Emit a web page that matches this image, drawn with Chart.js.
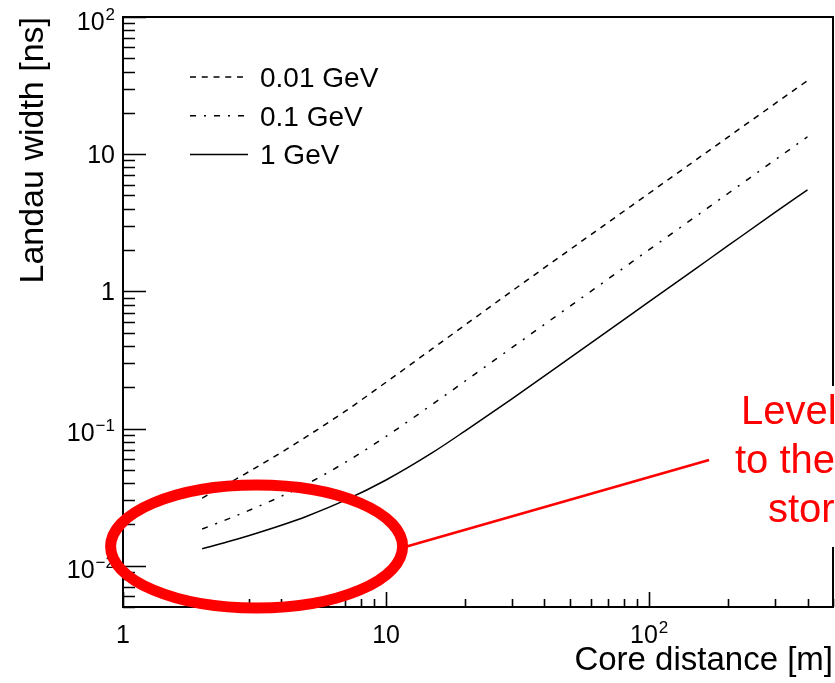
<!DOCTYPE html>
<html>
<head>
<meta charset="utf-8">
<script src="https://cdn.jsdelivr.net/npm/chart.js@4/dist/chart.umd.min.js"></script>
<style>
  html, body { margin: 0; padding: 0; background: #fff; overflow: hidden; }
  canvas { display: block; }
</style>
</head>
<body>
<canvas id="c" width="835" height="683"></canvas>
<script>
// Core distance samples [m]
const coreDistance = [2, 2.5, 3, 4, 5, 7, 10, 15, 20, 30, 50, 70, 100, 150, 200, 300, 400];
// Landau width [ns] for each primary energy
const width001GeV = [0.0311, 0.03951, 0.04828, 0.06703, 0.08764, 0.1338, 0.2175, 0.3819, 0.5697, 1.001, 2.016, 3.19, 5.19, 9.03, 13.37, 23.25, 34.4];
const width01GeV  = [0.0185, 0.02186, 0.02521, 0.03209, 0.03941, 0.0567, 0.0876, 0.1501, 0.2221, 0.387, 0.7792, 1.234, 2.011, 3.501, 5.19, 9.04, 13.4];
const width1GeV   = [0.0133, 0.01494, 0.01655, 0.01973, 0.02296, 0.03004, 0.04217, 0.06668, 0.0962, 0.164, 0.327, 0.5167, 0.841, 1.46, 2.16, 3.745, 5.5];
const seriesLabels = ['0.01 GeV', '0.1 GeV', '1 GeV'];

// Axis ranges and labels (base + superscript exponent)
const xRange = [1, 500];
const yRange = [0.005, 100];
const xTickLabels = [
  { value: 1, base: '1', exp: '' },
  { value: 10, base: '10', exp: '' },
  { value: 100, base: '10', exp: '2' }
];
const yTickLabels = [
  { value: 0.01, base: '10', exp: '\u22122' },
  { value: 0.1, base: '10', exp: '\u22121' },
  { value: 1, base: '1', exp: '' },
  { value: 10, base: '10', exp: '' },
  { value: 100, base: '10', exp: '2' }
];
const xTitle = 'Core distance [m]';
const yTitle = 'Landau width [ns]';

// Callout: ellipse around the small-distance region and its note
const calloutCenter = { x: 3.22, y: 0.0138 };
const calloutLineEnd = { x: 169, y: 0.059 };
const noteLines = ['Level', 'to the', 'stor'];

const FONT = '"Liberation Sans", Arial, Helvetica, sans-serif';

function logTicks(min, max) {
  const out = [];
  for (let n = Math.floor(Math.log10(min)); n <= Math.ceil(Math.log10(max)); n++) {
    for (let m = 1; m <= 9; m++) {
      const v = Number((m * Math.pow(10, n)).toPrecision(12));
      if (v >= min * 0.99999 && v <= max * 1.00001) out.push({ v, major: m === 1 });
    }
  }
  return out;
}

function drawPowerLabel(ctx, lab, px, py, align) {
  const mainFont = '25px ' + FONT, supFont = '17px ' + FONT;
  ctx.font = mainFont;
  const wMain = ctx.measureText(lab.base).width;
  ctx.font = supFont;
  const wSup = lab.exp ? ctx.measureText(lab.exp).width + 1 : 0;
  const total = wMain + wSup;
  const x0 = align === 'center' ? px - total / 2 : px - total;
  ctx.textAlign = 'left';
  ctx.textBaseline = 'alphabetic';
  ctx.font = mainFont;
  ctx.fillText(lab.base, x0, py);
  if (lab.exp) {
    ctx.font = supFont;
    ctx.fillText(lab.exp, x0 + wMain + 1, py - 10);
  }
}

const rootFrame = {
  id: 'rootFrame',
  afterDraw(chart) {
    const { ctx, chartArea: a, scales: { x, y } } = chart;
    ctx.save();
    ctx.fillStyle = '#000';
    ctx.strokeStyle = '#000';

    // tick marks pointing into the frame
    ctx.lineWidth = 1.6;
    ctx.beginPath();
    logTicks(xRange[0], xRange[1]).forEach(t => {
      const px = Math.round(x.getPixelForValue(t.v)) + 0.5;
      const len = t.major ? 15 : 8;
      ctx.moveTo(px, a.bottom);
      ctx.lineTo(px, a.bottom - len);
    });
    logTicks(yRange[0], yRange[1]).forEach(t => {
      const py = Math.round(y.getPixelForValue(t.v)) + 0.5;
      const len = t.major ? 23 : 12;
      ctx.moveTo(a.left, py);
      ctx.lineTo(a.left + len, py);
    });
    ctx.stroke();

    // frame
    ctx.lineWidth = 2;
    ctx.strokeRect(a.left, a.top, a.right - a.left, a.bottom - a.top);

    // tick labels
    xTickLabels.forEach(l => drawPowerLabel(ctx, l, x.getPixelForValue(l.value), a.bottom + 36, 'center'));
    yTickLabels.forEach(l => {
      const py = y.getPixelForValue(l.value);
      drawPowerLabel(ctx, l, a.left - 8, py + (l.exp ? 12.5 : 9), 'right');
    });

    // axis titles
    ctx.textAlign = 'right';
    ctx.textBaseline = 'alphabetic';
    ctx.font = '33px ' + FONT;
    ctx.fillText(xTitle, a.right, a.bottom + 63);
    ctx.save();
    ctx.translate(43, a.top);
    ctx.rotate(-Math.PI / 2);
    ctx.font = '34px ' + FONT;
    ctx.fillText(yTitle, 0, 0);
    ctx.restore();

    // legend
    chart.data.datasets.forEach((ds, i) => {
      const cy = a.top + 60 + i * 38.7;
      ctx.save();
      ctx.lineWidth = ds.borderWidth || 1.5;
      ctx.setLineDash(ds.borderDash || []);
      ctx.beginPath();
      ctx.moveTo(a.left + 67, cy);
      ctx.lineTo(a.left + 125, cy);
      ctx.stroke();
      ctx.restore();
      ctx.font = '28px ' + FONT;
      ctx.textAlign = 'left';
      ctx.fillText(ds.label, a.left + 137, cy + 10);
    });

    // callout
    const cx = x.getPixelForValue(calloutCenter.x);
    const cyy = y.getPixelForValue(calloutCenter.y);
    const rx = 146, ry = 61.5;
    ctx.strokeStyle = '#ff0000';
    ctx.fillStyle = '#ff0000';
    ctx.lineWidth = 2.6;
    ctx.beginPath();
    ctx.moveTo(cx + rx + 4, cyy);
    ctx.lineTo(x.getPixelForValue(calloutLineEnd.x), y.getPixelForValue(calloutLineEnd.y));
    ctx.stroke();
    ctx.lineWidth = 11;
    ctx.beginPath();
    ctx.ellipse(cx, cyy, rx, ry, 0, 0, Math.PI * 2);
    ctx.stroke();

    // note box (opaque, sits over the frame edge) and its text
    ctx.fillStyle = '#fff';
    ctx.fillRect(722, 386, 120, 161);
    ctx.fillStyle = '#ff0000';
    ctx.font = '40px ' + FONT;
    ctx.textAlign = 'left';
    const noteX = [741, 735, 768];
    noteLines.forEach((t, i) => ctx.fillText(t, noteX[i], 424 + i * 49));
    ctx.restore();
  }
};

const mk = (label, values, dash) => ({
  label,
  data: coreDistance.map((d, i) => ({ x: d, y: values[i] })),
  borderColor: '#000',
  borderWidth: 1.5,
  borderDash: dash,
  pointRadius: 0,
  fill: false,
  cubicInterpolationMode: 'monotone'
});

new Chart(document.getElementById('c'), {
  type: 'line',
  data: {
    datasets: [
      mk(seriesLabels[0], width001GeV, [6, 5.75]),
      mk(seriesLabels[1], width01GeV, [6, 8, 2, 8]),
      mk(seriesLabels[2], width1GeV, [])
    ]
  },
  options: {
    responsive: false,
    animation: false,
    devicePixelRatio: 1,
    layout: { padding: { left: 123, right: 2, top: 17, bottom: 76 } },
    scales: {
      x: { type: 'logarithmic', min: xRange[0], max: xRange[1], display: false },
      y: { type: 'logarithmic', min: yRange[0], max: yRange[1], display: false }
    },
    plugins: { legend: { display: false }, tooltip: { enabled: false } }
  },
  plugins: [rootFrame]
});
</script>
</body>
</html>
